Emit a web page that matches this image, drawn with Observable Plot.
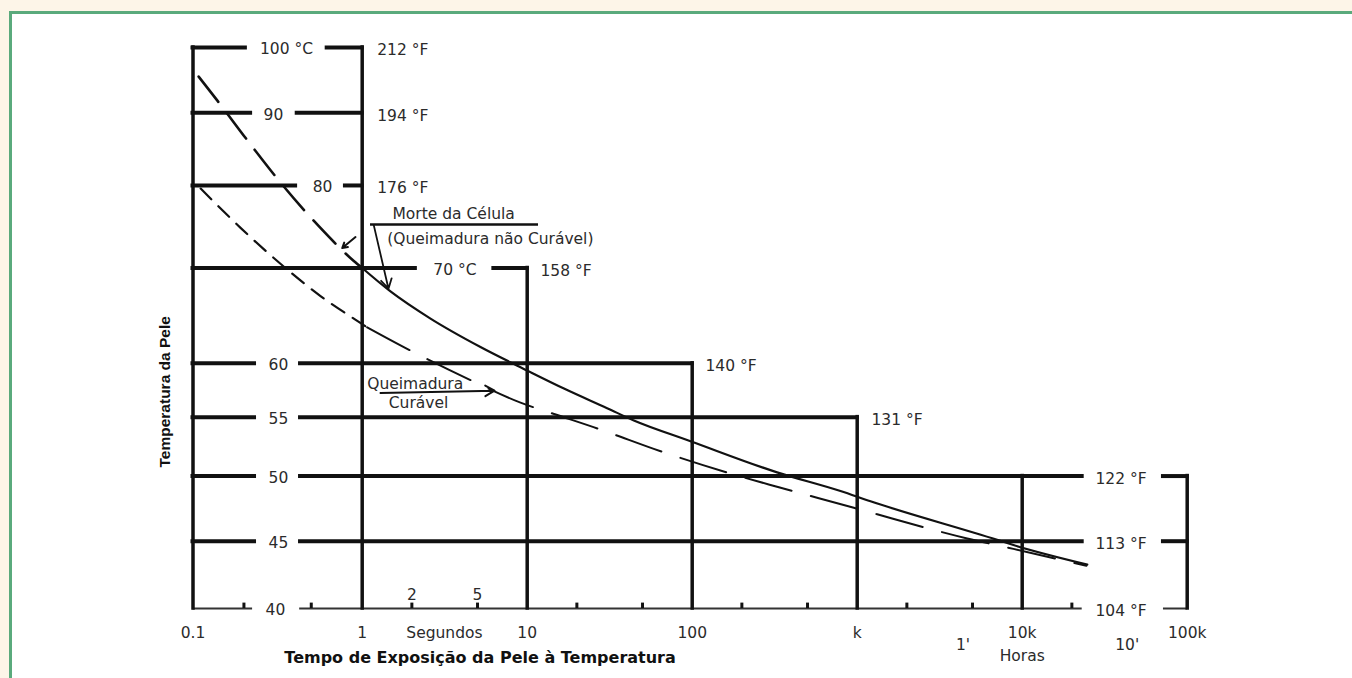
<!DOCTYPE html>
<html><head><meta charset="utf-8">
<script src="https://cdn.jsdelivr.net/npm/d3@7"></script>
<script src="https://cdn.jsdelivr.net/npm/@observablehq/plot@0.6"></script>
<style>
html,body{margin:0;padding:0;width:1352px;height:678px;overflow:hidden;background:#fdf5e8;}
#box{position:absolute;left:9px;top:11px;width:1400px;height:720px;background:#fff;border-left:3px solid #5aaa7c;border-top:3px solid #5aaa7c;}
#chart{position:absolute;left:0;top:0;}
</style></head><body><div id="box"></div><div id="chart"></div>
<script>
// ---- temperature rows (°C, with °F equivalents) ----
const tempC    = [100, 90, 80, 70, 60, 55, 50, 45, 40];
const labelC   = ["100 °C", "90", "80", "70 °C", "60", "55", "50", "45", "40"];
const labelF   = ["212 °F", "194 °F", "176 °F", "158 °F", "140 °F", "131 °F", "122 °F", "113 °F", "104 °F"];
const gapFrom  = [0.204, 0.219, 0.404, 2.10, 0.231, 0.231, 0.231, 0.231, 0.225];
const gapTo    = [0.621, 0.413, 0.796, 6.28, 0.432, 0.432, 0.432, 0.432, 0.427];
const labelCAt = [0.357, 0.299, 0.583, 3.65, 0.320, 0.320, 0.320, 0.320, 0.307];
const lineTo   = [1, 1, 1, 10, 100, 1000, 23100, 23100, 23100];
const labelFAt = [1.233, 1.233, 1.233, 12.04, 120.4, 1221, 27800, 27800, 27800];
const bracketFrom = 71800;

// ---- time axis (seconds) ----
const timeMajor  = [0.1, 1, 10, 100, 1000, 10000, 100000];
const timeLabel  = ["0.1", "1", "10", "100", "k", "10k", "100k"];
const timeTop    = [100, 100, 70, 60, 55, 50, 50];
const timeMinor  = [0.2, 0.5, 2, 5, 20, 50, 200, 500, 2000, 5000, 20000];
const minorLabT  = [2, 5];
const minorLabS  = ["2", "5"];
const hourLabT   = [4378, 43300];
const hourLabS   = ["1'", "10'"];

// ---- curves: time (s) vs skin temperature (°C) ----
const deathDashT = [0.108, 0.139, 0.209, 0.337, 0.554, 0.892, 1];
const deathDashC = [95.4, 91.8, 86.1, 80.1, 74.9, 70.8, 70];
const deathT = [1, 1.484, 2.594, 5.21, 10, 16.7, 30.5, 44.3, 97.7, 327, 792, 1204, 7050, 8850, 24800];
const deathC = [70, 67.4, 64.5, 61.6, 59.3, 57.6, 55.8, 54.7, 52.9, 50.3, 48.8, 48.0, 45.1, 44.7, 43.2];
const curableEarlyT = [0.111, 0.191, 0.352, 0.567, 0.892, 1.072];
const curableEarlyC = [79.6, 74.7, 70.0, 66.9, 64.5, 63.6];
const curableT = [1.072, 1.787, 4.53, 9.11, 14.4, 26.6, 65.8, 170.8, 335, 954, 1322, 4641, 8850, 24500];
const curableC = [63.6, 61.6, 58.4, 56.3, 55.3, 54.0, 52.0, 50.2, 49.1, 47.5, 47.0, 45.2, 44.4, 43.1];

// ---- annotations ----
const noteText = ["Morte da Célula", "(Queimadura não Curável)", "Queimadura", "Curável"];
const noteT    = [1.526, 1.417, 1.072, 1.449];
const noteC    = [76.4, 73.4, 58.05, 56.3];

const rows = tempC.map((T, i) => ({T, lc: labelC[i], lf: labelF[i], g0: gapFrom[i], g1: gapTo[i], lcx: labelCAt[i], end: lineTo[i], lfx: labelFAt[i]}));
const upper = rows.filter(d => d.T > 40);
const base = rows.filter(d => d.T === 40);
const cols = timeMajor.map((t, i) => ({t, s: timeLabel[i], top: timeTop[i]}));
const pts = (T, C) => T.map((t, i) => ({t, c: C[i]}));
const notes = noteText.map((s, i) => ({s, t: noteT[i], c: noteC[i]}));

const font = "DejaVu Sans, Liberation Sans, sans-serif";
const ink = "#111";
const txt = "#2b2b2b";
const fs = 15.5;

const chart = Plot.plot({
  width: 1352, height: 678,
  marginLeft: 192.5, marginRight: 165.3, marginTop: 47, marginBottom: 70,
  style: {background: "transparent", fontFamily: font, overflow: "visible"},
  x: {type: "log", domain: [0.1, 1, 100000], range: [192.5, 361.7, 1186.7], axis: null},
  y: {type: "log", domain: [40, 45, 100], range: [608, 540.7, 47], axis: null},
  marks: [
    // horizontal temperature lines
    Plot.ruleY(upper, {y: "T", x1: 0.1, x2: "g0", stroke: ink, strokeWidth: 4, strokeLinecap: "square"}),
    Plot.ruleY(upper, {y: "T", x1: "g1", x2: "end", stroke: ink, strokeWidth: 4, strokeLinecap: "square"}),
    Plot.ruleY(upper.filter(d => d.T <= 50), {y: "T", x1: bracketFrom, x2: 100000, stroke: ink, strokeWidth: 4, strokeLinecap: "square"}),
    Plot.ruleY(base, {y: "T", x1: 0.1, x2: "g0", stroke: "#333", strokeWidth: 2}),
    Plot.ruleY(base, {y: "T", x1: "g1", x2: "end", stroke: "#333", strokeWidth: 2}),
    Plot.ruleY(base, {y: "T", x1: bracketFrom, x2: 100000, stroke: "#333", strokeWidth: 2}),
    // vertical time lines
    Plot.ruleX(cols, {x: "t", y1: 40, y2: "top", stroke: ink, strokeWidth: 3.5, strokeLinecap: "square"}),
    // minor ticks
    Plot.ruleX(timeMinor, {x: d => d, y1: 40, y2: 40.38, stroke: ink, strokeWidth: 3}),
    // curves
    Plot.line(pts(deathDashT, deathDashC), {x: "t", y: "c", curve: "monotone-x", stroke: ink, strokeWidth: 2.6, strokeDasharray: "32,14"}),
    Plot.line(pts(deathT, deathC), {x: "t", y: "c", curve: "monotone-x", stroke: ink, strokeWidth: 2.2}),
    Plot.line(pts(curableEarlyT, curableEarlyC), {x: "t", y: "c", curve: "monotone-x", stroke: ink, strokeWidth: 2.2, strokeDasharray: "15,10"}),
    Plot.line(pts(curableT, curableC), {x: "t", y: "c", curve: "monotone-x", stroke: ink, strokeWidth: 2, strokeDasharray: "48,20"}),
    // annotation leaders
    Plot.ruleY([75.1], {y: d => d, x1: 1.123, x2: 11.71, stroke: ink, strokeWidth: 2.6}),
    Plot.arrow([{x1: 1.176, y1: 75.0, x2: 1.443, y2: 67.7}], {x1: "x1", y1: "y1", x2: "x2", y2: "y2", stroke: ink, strokeWidth: 1.8, headLength: 9}),
    Plot.arrow([{x1: 0.913, y1: 73.6, x2: 0.762, y2: 72.3}], {x1: "x1", y1: "y1", x2: "x2", y2: "y2", stroke: ink, strokeWidth: 2, headLength: 10}),
    Plot.arrow([{x1: 1.291, y1: 57.2, x2: 6.34, y2: 57.4}], {x1: "x1", y1: "y1", x2: "x2", y2: "y2", stroke: ink, strokeWidth: 2, headLength: 8}),
    // temperature labels
    Plot.text(rows, {x: "lcx", y: "T", text: "lc", dy: 2, fontSize: fs, fill: txt}),
    Plot.text(rows, {x: "lfx", y: "T", text: "lf", dy: 3, textAnchor: "start", fontSize: fs, fill: txt}),
    // time labels
    Plot.text(cols, {x: "t", y: 40, text: "s", dy: 24.5, fontSize: fs, fill: txt}),
    Plot.text(minorLabT, {x: d => d, y: 40, text: (d, i) => minorLabS[i], dy: -13, fontSize: fs, fill: txt}),
    Plot.text(hourLabT, {x: d => d, y: 40, text: (d, i) => hourLabS[i], dy: 37, fontSize: fs, fill: txt}),
    Plot.text(["Segundos"], {x: 3.15, y: 40, dy: 24.5, fontSize: fs, fill: txt}),
    Plot.text(["Horas"], {x: 10000, y: 40, dy: 48, fontSize: fs, fill: txt}),
    // notes
    Plot.text(notes, {x: "t", y: "c", text: "s", textAnchor: "start", fontSize: fs, fill: txt}),
    // axis titles
    Plot.text(["Tempo de Exposição da Pele à Temperatura"], {x: 5.18, y: 40, dy: 49.5, fontSize: 16, fontWeight: "bold", fill: "#111"}),
    Plot.text(["Temperatura da Pele"], {frameAnchor: "left", y: 57.3, dx: -27.5, textAnchor: "middle", rotate: -90, fontFamily: "Liberation Sans, Arial, sans-serif", fontSize: 15.5, fontWeight: "bold", fill: "#111"})
  ]
});
document.getElementById("chart").appendChild(chart);
</script></body></html>
